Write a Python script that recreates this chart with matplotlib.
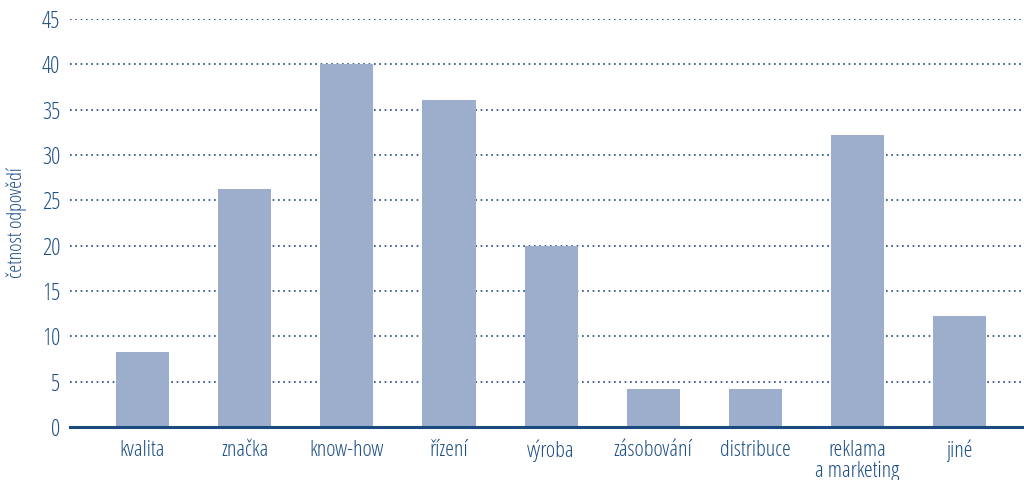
import matplotlib
matplotlib.use("Agg")
import matplotlib.pyplot as plt

categories = ["kvalita", "značka", "know-how", "řízení", "výroba",
              "zásobování", "distribuce", "reklama\na marketing", "jiné"]
values = [8.3, 26.3, 40.0, 36.1, 20.0, 4.2, 4.2, 32.2, 12.2]
y_ticks = [0, 5, 10, 15, 20, 25, 30, 35, 40, 45]
y_label = "četnost odpovědí"

plt.rcParams["font.family"] = ["Open Sans", "DejaVu Sans"]
plt.rcParams["font.stretch"] = "condensed"
plt.rcParams["font.weight"] = 500

text_color = "#1d4f86"
axis_color = "#1a4a7e"
bar_color = "#9daecd"

fig = plt.figure(figsize=(10.24, 4.8), dpi=100)
ax = fig.add_axes([70 / 1024, 53 / 480, 954 / 1024, 408 / 480])

x = list(range(len(categories)))
ax.bar(x, values, width=0.52, color=bar_color, zorder=2)

ax.set_xlim(-0.71, 8.63)
ax.set_ylim(0, 45)
ax.set_yticks(y_ticks)
ax.set_yticklabels([str(t) for t in y_ticks], fontsize=16.5, color=text_color)
ax.set_xticks(x)
ax.set_xticklabels(categories, fontsize=16, color=text_color, linespacing=1.0)

ax.yaxis.grid(True, linestyle=(0, (1, 2.2)), color=axis_color, linewidth=1.2, zorder=1)
ax.set_axisbelow(True)

for side in ("top", "right", "left"):
    ax.spines[side].set_visible(False)
ax.spines["bottom"].set_color(axis_color)
ax.spines["bottom"].set_linewidth(2.2)
ax.spines["bottom"].set_zorder(3)

ax.tick_params(axis="both", length=0)
ax.tick_params(axis="y", pad=7)
ax.tick_params(axis="x", pad=9)

ax.set_ylabel(y_label, fontsize=14.5, color=text_color, labelpad=11)

fig.savefig("out.png", dpi=100)
